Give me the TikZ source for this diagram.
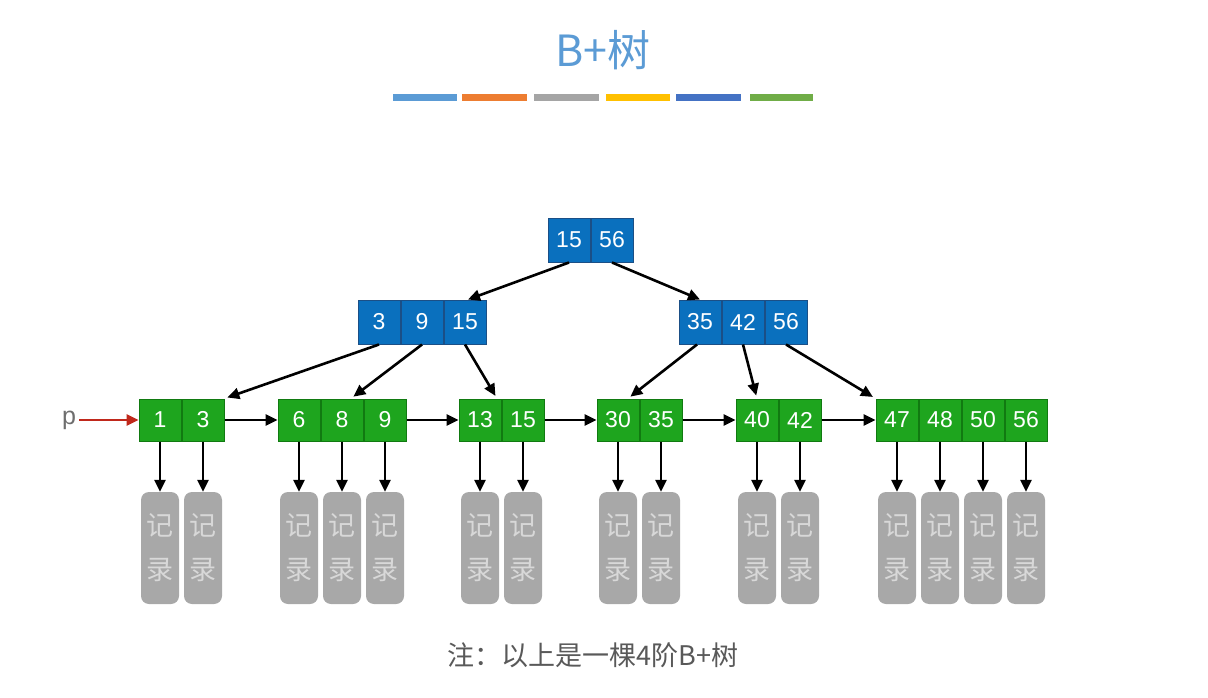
\documentclass[tikz,border=0pt]{standalone}
\usepackage{fontspec}
\setmainfont{Liberation Sans}
\newfontfamily\cjk{Noto Sans CJK SC}
\usetikzlibrary{arrows.meta,positioning}
\definecolor{keyblue}{HTML}{0A70BE}
\definecolor{keybluedark}{HTML}{1B4F86}
\definecolor{keygreen}{HTML}{1EA51E}
\definecolor{keygreendark}{HTML}{117A11}
\definecolor{recgray}{HTML}{A8A8A8}
\definecolor{reclight}{HTML}{D8D8D8}
\definecolor{titleblue}{HTML}{5B9BD5}
\definecolor{notegray}{HTML}{595959}
\definecolor{pgray}{HTML}{6E6E6E}
\definecolor{pred}{HTML}{C0281B}
\definecolor{barblue}{HTML}{5B9BD5}
\definecolor{barorange}{HTML}{ED7D31}
\definecolor{bargray}{HTML}{A5A5A5}
\definecolor{baryellow}{HTML}{FFC000}
\definecolor{bardarkblue}{HTML}{4472C4}
\definecolor{bargreen}{HTML}{70AD47}

\begin{document}
\begin{tikzpicture}[
    x=1pt, y=-1pt,
    bkey/.style={draw=keybluedark, fill=keyblue, text=white, line width=1pt,
      font=\fontsize{23}{26}\selectfont, minimum width=42pt, minimum height=44pt, inner sep=0pt},
    gkey/.style={bkey, draw=keygreendark, fill=keygreen, minimum height=42pt},
    rec/.style={fill=recgray, rounded corners=8pt, text=reclight, align=center,
      font=\cjk\fontsize{27}{44}\selectfont, minimum width=38pt, minimum height=112pt, inner sep=0pt},
    ptr/.style={-{Triangle[length=12pt,width=11pt]}, line width=2.6pt},
    bar/.style={line width=7pt}
  ]
    \fill[white] (0,0) rectangle (1208,698);

    % title and colour bars
    \node[font=\cjk\fontsize{43}{50}\selectfont, text=titleblue] (title) at (603,50) {B+树};
    \draw[bar, barblue] (393,98) -- (457,98);
    \draw[bar, barorange] (462,98) -- (527,98);
    \draw[bar, bargray] (534,98) -- (599,98);
    \draw[bar, baryellow] (606,98) -- (670,98);
    \draw[bar, bardarkblue] (676,98) -- (741,98);
    \draw[bar, bargreen] (750,98) -- (813,98);

    % root and inner nodes
    \node[bkey] (ra) at (569,240) {15};
    \node[bkey, right=0pt of ra] (rb) {56};
    \node[bkey] (ia) at (379,322) {3};
    \node[bkey, right=0pt of ia] (ib) {9};
    \node[bkey, right=0pt of ib] (ic) {15};
    \node[bkey] (ja) at (700,322) {35};
    \node[bkey, right=0pt of ja] (jb) {42};
    \node[bkey, right=0pt of jb] (jc) {56};

    % leaves
    \node[gkey] (l1a) at (160,420) {1};
    \node[gkey, right=0pt of l1a] (l1b) {3};
    \node[gkey] (l2a) at (299,420) {6};
    \node[gkey, right=0pt of l2a] (l2b) {8};
    \node[gkey, right=0pt of l2b] (l2c) {9};
    \node[gkey] (l3a) at (480,420) {13};
    \node[gkey, right=0pt of l3a] (l3b) {15};
    \node[gkey] (l4a) at (618,420) {30};
    \node[gkey, right=0pt of l4a] (l4b) {35};
    \node[gkey] (l5a) at (757,420) {40};
    \node[gkey, right=0pt of l5a] (l5b) {42};
    \node[gkey] (l6a) at (897,420) {47};
    \node[gkey, right=0pt of l6a] (l6b) {48};
    \node[gkey, right=0pt of l6b] (l6c) {50};
    \node[gkey, right=0pt of l6c] (l6d) {56};

    % records
    \coordinate (recrow) at (0,548);
    \node[rec] (r1a) at (l1a |- recrow) {记\\录};
    \node[rec] (r1b) at (l1b |- recrow) {记\\录};
    \node[rec] (r2a) at (l2a |- recrow) {记\\录};
    \node[rec] (r2b) at (l2b |- recrow) {记\\录};
    \node[rec] (r2c) at (l2c |- recrow) {记\\录};
    \node[rec] (r3a) at (l3a |- recrow) {记\\录};
    \node[rec] (r3b) at (l3b |- recrow) {记\\录};
    \node[rec] (r4a) at (l4a |- recrow) {记\\录};
    \node[rec] (r4b) at (l4b |- recrow) {记\\录};
    \node[rec] (r5a) at (l5a |- recrow) {记\\录};
    \node[rec] (r5b) at (l5b |- recrow) {记\\录};
    \node[rec] (r6a) at (l6a |- recrow) {记\\录};
    \node[rec] (r6b) at (l6b |- recrow) {记\\录};
    \node[rec] (r6c) at (l6c |- recrow) {记\\录};
    \node[rec] (r6d) at (l6d |- recrow) {记\\录};

    % pointer p
    \node[text=pgray, font=\fontsize{25}{28}\selectfont] (p) at (69,420) {p};
    \draw[ptr, pred] (p) -- (l1a);

    % tree links
    \draw[ptr] (ra.south) -- ([xshift=3pt]ic.north);
    \draw[ptr] (rb.south) -- (ja.north);
    \draw[ptr, shorten >=3pt] (ia.south) -- (l1b.north east);
    \draw[ptr, shorten >=3pt] (ib.south) -- ([xshift=9pt]l2b.north);
    \draw[ptr, shorten >=3pt] (ic.south) -- ([xshift=17pt]l3a.north);
    \draw[ptr, shorten >=3pt] ([xshift=-3pt]ja.south) -- ([xshift=10pt]l4a.north);
    \draw[ptr, shorten >=3pt] (jb.south) -- (l5a.north);
    \draw[ptr, shorten >=3pt] (jc.south) -- (l6a.north west);

    % leaf chain
    \draw[ptr] (l1b) -- (l2a);
    \draw[ptr] (l2c) -- (l3a);
    \draw[ptr] (l3b) -- (l4a);
    \draw[ptr] (l4b) -- (l5a);
    \draw[ptr] (l5b) -- (l6a);

    % leaf to record
    \draw[ptr] (l1a) -- (r1a);
    \draw[ptr] (l1b) -- (r1b);
    \draw[ptr] (l2a) -- (r2a);
    \draw[ptr] (l2b) -- (r2b);
    \draw[ptr] (l2c) -- (r2c);
    \draw[ptr] (l3a) -- (r3a);
    \draw[ptr] (l3b) -- (r3b);
    \draw[ptr] (l4a) -- (r4a);
    \draw[ptr] (l4b) -- (r4b);
    \draw[ptr] (l5a) -- (r5a);
    \draw[ptr] (l5b) -- (r5b);
    \draw[ptr] (l6a) -- (r6a);
    \draw[ptr] (l6b) -- (r6b);
    \draw[ptr] (l6c) -- (r6c);
    \draw[ptr] (l6d) -- (r6d);

    \node[font=\cjk\fontsize{27}{30}\selectfont, text=notegray] (note) at (593,655) {注：以上是一棵4阶B+树};
  \end{tikzpicture}
\end{document}
